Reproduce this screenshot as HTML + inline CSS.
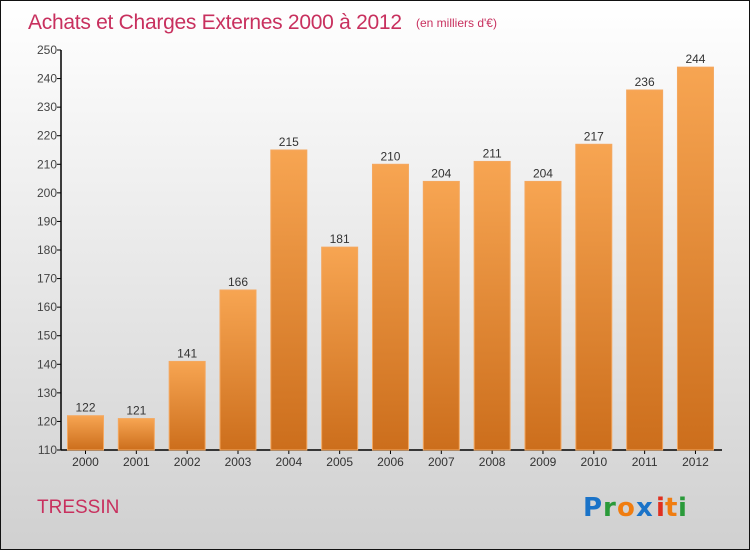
<!DOCTYPE html>
<html><head><meta charset="utf-8"><style>
html,body{margin:0;padding:0}
svg{display:block;font-family:"Liberation Sans","DejaVu Sans",sans-serif}
</style></head><body>
<svg id="c" width="750" height="550" viewBox="0 0 750 550">
<defs>
<linearGradient id="bg" x1="0" y1="0" x2="0" y2="1"><stop offset="0" stop-color="#ffffff"/><stop offset="1" stop-color="#d0d0d0"/></linearGradient>
<linearGradient id="bar" x1="0" y1="0" x2="0" y2="1"><stop offset="0" stop-color="#f7a552"/><stop offset="1" stop-color="#cc6e1c"/></linearGradient>
</defs>
<rect x="0.5" y="0.5" width="749" height="549" fill="url(#bg)" stroke="#111" stroke-width="1"/>
<text x="28" y="29" font-size="21" fill="#c8305e" textLength="374">Achats et Charges Externes 2000 à 2012</text>
<text x="416" y="27" font-size="12" fill="#c8305e">(en milliers d'€)</text>
<text x="37" y="513" font-size="19" fill="#c8305e">TRESSIN</text>
<g font-size="26" font-weight="bold" font-family="'DejaVu Sans',sans-serif">
<text x="583" y="516" fill="#1a73c8">P</text><text x="603" y="516" fill="#2a9a3a">r</text><text x="617" y="516" fill="#f07d10">o</text><text x="636" y="516" fill="#1a73c8">x</text><text x="656" y="516" fill="#e03020">i</text><text x="665" y="516" fill="#f07d10">t</text><text x="678" y="516" fill="#2a9a3a">i</text>
</g>
<g id="axes"></g>
<g id="bars"></g>
</svg>
<script>
const years=["2000","2001","2002","2003","2004","2005","2006","2007","2008","2009","2010","2011","2012"];
const values=[122,121,141,166,215,181,210,204,211,204,217,236,244];
const yTicks=[110,120,130,140,150,160,170,180,190,200,210,220,230,240,250];
const NS="http://www.w3.org/2000/svg";
const yMin=110,yMax=250,yTop=50,yBottom=450,x0=61,step=50.83,bw=36,first=85.5;
function yS(v){return yBottom-(v-yMin)/(yMax-yMin)*(yBottom-yTop);}
function xS(i){return first+i*step;}
function mk(tag,attrs,parent){const e=document.createElementNS(NS,tag);for(const k in attrs)e.setAttribute(k,attrs[k]);parent.appendChild(e);return e;}
const ax=document.getElementById('axes'),bg=document.getElementById('bars');
let l=mk('line',{x1:x0,y1:yTop,x2:x0,y2:yBottom,stroke:'#000','stroke-width':1.5},ax);


l=mk('line',{x1:x0,y1:yBottom,x2:722,y2:yBottom,stroke:'#000','stroke-width':1.5},ax);


yTicks.forEach(t=>{
 const y=yS(t);
 const tk=mk('line',{x1:x0-4,y1:y,x2:x0,y2:y,stroke:'#000','stroke-width':1},ax);
 
 
 const tx=mk('text',{x:x0-4,y:y+4,'font-size':12,fill:'#444','text-anchor':'end'},ax);
 tx.textContent=t;
 
 
});
years.forEach((yr,i)=>{
 const cx=xS(i),v=values[i],y=yS(v);
 const r=mk('rect',{x:cx-bw/2,y:y,width:bw,height:yBottom-y,fill:'url(#bar)',stroke:'#f4a860','stroke-width':1},bg);
 
 
 const vt=mk('text',{x:cx,y:y-4,'font-size':12,fill:'#333','text-anchor':'middle'},bg);
 vt.textContent=v;
 
 
 const tk=mk('line',{x1:cx,y1:yBottom,x2:cx,y2:yBottom+4,stroke:'#000','stroke-width':1},ax);
 
 
 const xt=mk('text',{x:cx,y:yBottom+16,'font-size':12,fill:'#333','text-anchor':'middle'},ax);
 xt.textContent=yr;
 
 
});
</script>
</body></html>
